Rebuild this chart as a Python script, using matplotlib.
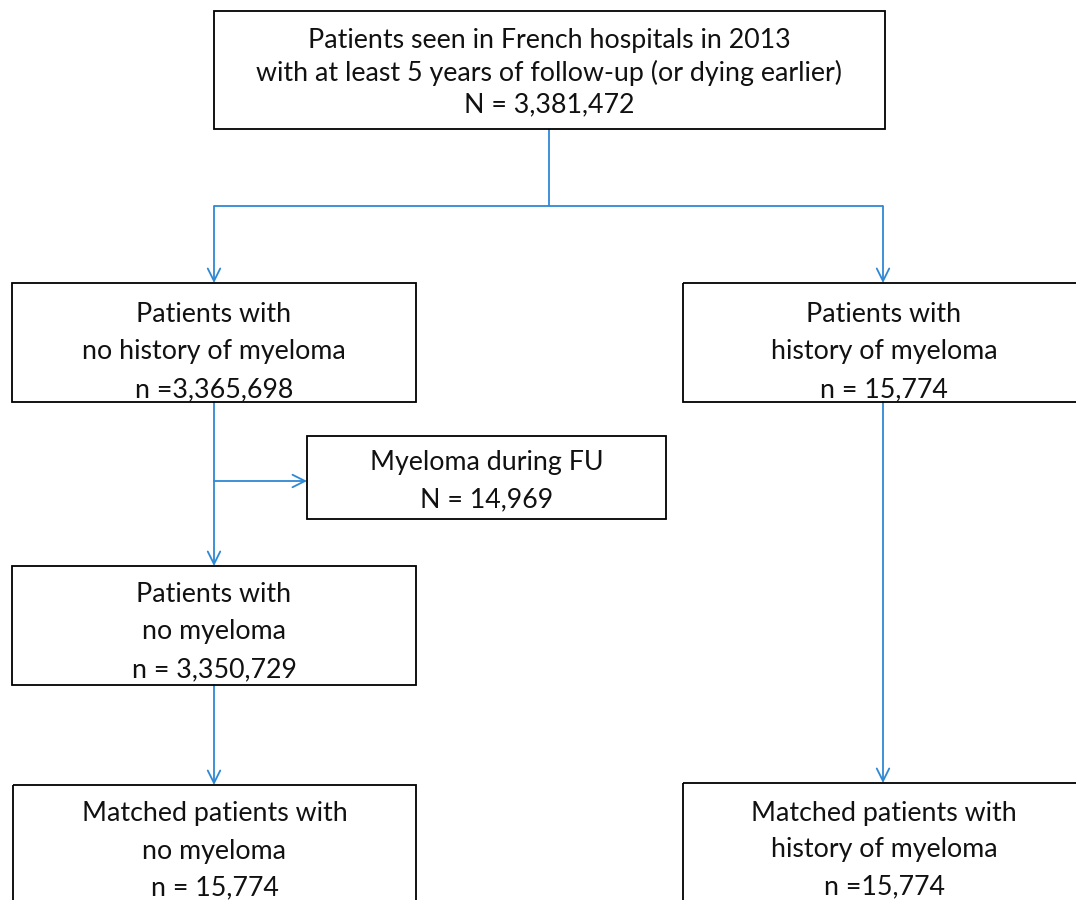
import matplotlib.pyplot as plt
from matplotlib.patches import Rectangle

# Flow chart content
BOX_TEXTS = [
    "Patients seen in French hospitals in 2013\nwith at least 5 years of follow-up (or dying earlier)\nN = 3,381,472",
    "Patients with\nno history of myeloma\nn =3,365,698",
    "Patients with\nhistory of myeloma\nn = 15,774",
    "Myeloma during FU\nN = 14,969",
    "Patients with\nno myeloma\nn = 3,350,729",
    "Matched patients with\nno myeloma\nn = 15,774",
    "Matched patients with\nhistory of myeloma\nn =15,774",
]

# box geometry in pixel units (left, top, right, bottom)
BOX_POS = [
    (214, 11, 885, 129),
    (12, 283, 416, 402),
    (683, 283, 1085, 402),
    (307, 436, 666, 519),
    (12, 566, 416, 685),
    (13, 785, 416, 910),
    (683, 783, 1085, 910),
]
TEXT_Y = [73, 352, 352, 481, 632, 851, 850]
SPACING = [1.32, 1.62, 1.62, 1.62, 1.62, 1.6, 1.6]

INK = "#000000"
BLUE = "#2E88D4"

plt.rcParams["font.family"] = ["Lato", "DejaVu Sans"]

fig = plt.figure(figsize=(10.76, 9.0), dpi=100)
ax = fig.add_axes([0, 0, 1, 1])
ax.set_xlim(0, 1076)
ax.set_ylim(900, 0)
ax.axis("off")

for (l, t, r, b), txt, ty, ls in zip(BOX_POS, BOX_TEXTS, TEXT_Y, SPACING):
    ax.add_patch(Rectangle((l, t), r - l, b - t, fill=False, ec=INK, lw=1.3,
                           zorder=3))
    ax.text((l + r) / 2, ty, txt, ha="center", va="center", fontsize=19.3,
            color="#111111", linespacing=ls, zorder=4)


def line(x, y, **kw):
    ax.plot(x, y, color=BLUE, lw=1.3, solid_capstyle="butt", zorder=2, **kw)


def arrow(x0, y0, x1, y1):
    ax.annotate("", xy=(x1, y1), xytext=(x0, y0),
                arrowprops=dict(arrowstyle="->,head_length=0.9,head_width=0.45",
                                color=BLUE, lw=1.3, shrinkA=0, shrinkB=0),
                zorder=2)


# top split
line([549, 549], [129, 206])
line([214, 883], [206, 206])
arrow(214, 206, 214, 283)
arrow(883, 206, 883, 283)
# left branch
arrow(214, 402, 214, 566)
arrow(214, 481, 307, 481)
arrow(214, 685, 214, 785)
# right branch
arrow(883, 402, 883, 783)

fig.savefig("out.png", dpi=100, facecolor="white")
